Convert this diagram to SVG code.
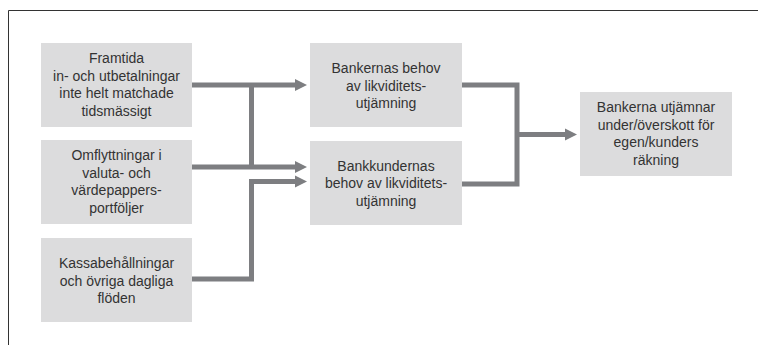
<svg xmlns="http://www.w3.org/2000/svg" width="758" height="345" viewBox="0 0 758 345">
<style>
.box{fill:#dcdcdd}
.t{font-family:"Liberation Sans",Arial,sans-serif;font-size:14px;fill:#333;text-anchor:middle}
.c{fill:none;stroke:#7d7e81;stroke-width:5;stroke-linejoin:miter}
.h{fill:#7d7e81}
</style>
<rect width="758" height="345" fill="#fff"/>
<path d="M8.5 345 V10.5 H758" fill="none" stroke="#333" stroke-width="1"/>
<g id="connectors">
<path class="c" d="M192 85 H296 M192 167 H296 M251.5 85 V167 M192 279 H251.5 V181.5 H296"/>
<path class="c" d="M462 85 H517 V184 H462 M517 134.5 H566"/>
<polygon class="h" points="295,79 307,85 295,91"/>
<polygon class="h" points="295,161 307,167 295,173"/>
<polygon class="h" points="295,175.5 307,181.5 295,187.5"/>
<polygon class="h" points="565,128.5 577,134.5 565,140.5"/>
</g>
<g id="n1"><rect class="box" x="41" y="43" width="151" height="84"/>
<text class="t" x="116.5" y="63">Framtida</text><text class="t" x="116.5" y="80.5">in- och utbetalningar</text><text class="t" x="116.5" y="98">inte helt matchade</text><text class="t" x="116.5" y="115.5">tidsmässigt</text></g>
<g id="n2"><rect class="box" x="41" y="140" width="151" height="84"/>
<text class="t" x="116.5" y="160">Omflyttningar i</text><text class="t" x="116.5" y="177.5">valuta- och</text><text class="t" x="116.5" y="195">värdepappers-</text><text class="t" x="116.5" y="212.5">portföljer</text></g>
<g id="n3"><rect class="box" x="41" y="238" width="151" height="84"/>
<text class="t" x="116.5" y="268">Kassabehållningar</text><text class="t" x="116.5" y="285.5">och övriga dagliga</text><text class="t" x="116.5" y="303">flöden</text></g>
<g id="n4"><rect class="box" x="310" y="43" width="152" height="84"/>
<text class="t" x="386" y="73">Bankernas behov</text><text class="t" x="386" y="90.5">av likviditets-</text><text class="t" x="386" y="108">utjämning</text></g>
<g id="n5"><rect class="box" x="310" y="141" width="152" height="84"/>
<text class="t" x="386" y="170.5">Bankkundernas</text><text class="t" x="386" y="188">behov av likviditets-</text><text class="t" x="386" y="205.5">utjämning</text></g>
<g id="n6"><rect class="box" x="580" y="92" width="152" height="84"/>
<text class="t" x="656" y="112">Bankerna utjämnar</text><text class="t" x="656" y="129.5">under/överskott för</text><text class="t" x="656" y="147">egen/kunders</text><text class="t" x="656" y="164.5">räkning</text></g>
</svg>
